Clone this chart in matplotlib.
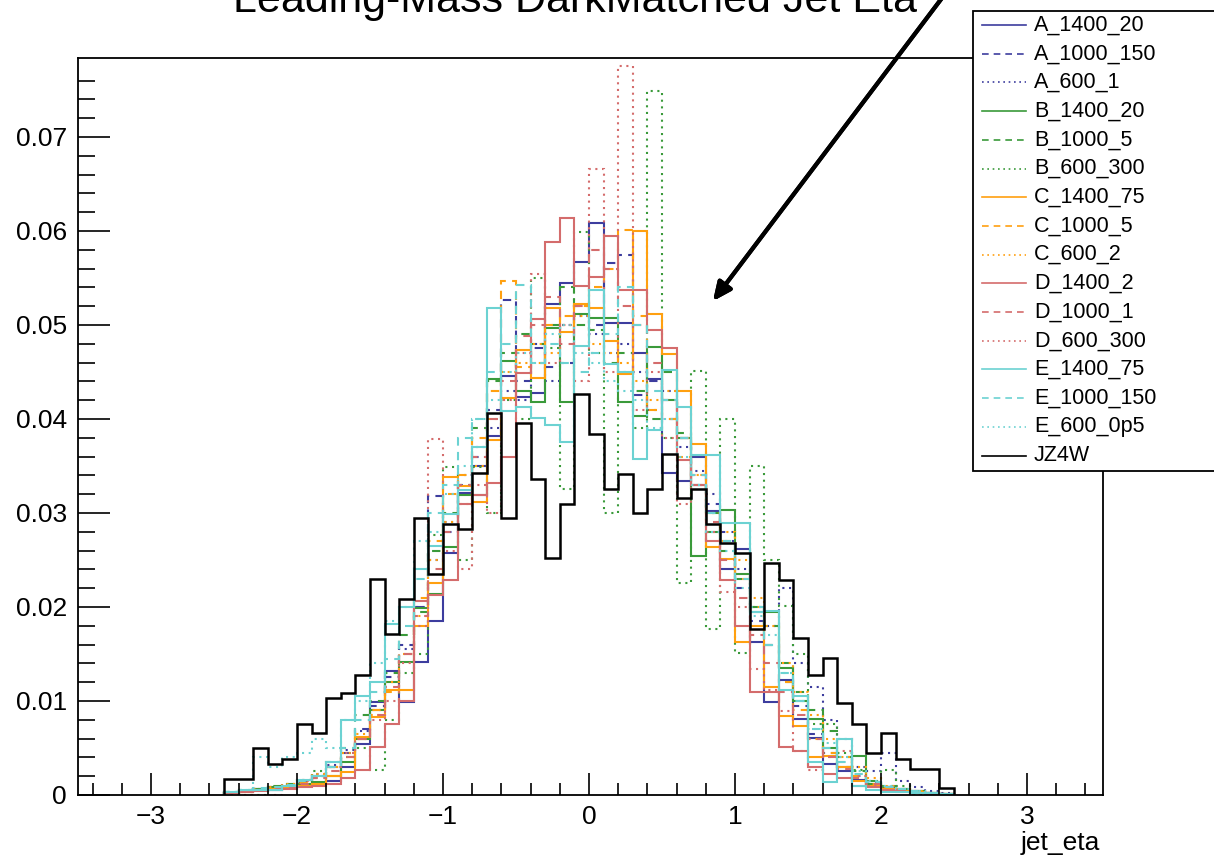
import matplotlib.pyplot as plt
import numpy as np
from matplotlib.patches import Rectangle
from matplotlib.lines import Line2D

plt.rcParams['font.family'] = ['Liberation Sans', 'DejaVu Sans']

# 50 bins of 0.1 in jet eta
edges = np.round(np.linspace(-2.5, 2.5, 51), 2)

A_1400_20 = [0.0002, 0.0004, 0.0006, 0.0005, 0.0008, 0.0010, 0.0012, 0.0015, 0.0030, 0.0054,
             0.0099, 0.0132, 0.0099, 0.0141, 0.0185, 0.0257, 0.0321, 0.0350, 0.0382, 0.0446,
             0.0423, 0.0428, 0.0522, 0.0545, 0.0567, 0.0608, 0.0502, 0.0502, 0.0470, 0.0443,
             0.0343, 0.0334, 0.0360, 0.0302, 0.0240, 0.0262, 0.0163, 0.0099, 0.0122, 0.0081,
             0.0061, 0.0033, 0.0025, 0.0016, 0.0011, 0.0008, 0.0005, 0.0003, 0.0002, 0.0001]
A_1000_150 = [0.0003, 0.0004, 0.0006, 0.0008, 0.0010, 0.0014, 0.0018, 0.0030, 0.0045, 0.0070,
              0.0095, 0.0125, 0.0160, 0.0200, 0.0318, 0.0280, 0.0330, 0.0360, 0.0410, 0.0527,
              0.0440, 0.0475, 0.0455, 0.0460, 0.0520, 0.0500, 0.0566, 0.0574, 0.0425, 0.0440,
              0.0400, 0.0380, 0.0330, 0.0310, 0.0280, 0.0220, 0.0185, 0.0160, 0.0120, 0.0095,
              0.0065, 0.0045, 0.0030, 0.0020, 0.0014, 0.0009, 0.0006, 0.0004, 0.0002, 0.0001]
A_600_1 = [0.0002, 0.0004, 0.0006, 0.0008, 0.0012, 0.0016, 0.0022, 0.0032, 0.0048, 0.0068,
           0.0090, 0.0120, 0.0155, 0.0200, 0.0250, 0.0290, 0.0340, 0.0370, 0.0390, 0.0430,
           0.0420, 0.0480, 0.0440, 0.0500, 0.0510, 0.0490, 0.0470, 0.0480, 0.0450, 0.0410,
           0.0430, 0.0370, 0.0345, 0.0320, 0.0270, 0.0240, 0.0200, 0.0180, 0.0220, 0.0140,
           0.0115, 0.0080, 0.0060, 0.0030, 0.0025, 0.0045, 0.0015, 0.0008, 0.0004, 0.0002]
B_1400_20 = [0.0002, 0.0004, 0.0006, 0.0008, 0.0009, 0.0012, 0.0014, 0.0020, 0.0035, 0.0060,
             0.0090, 0.0120, 0.0141, 0.0199, 0.0214, 0.0264, 0.0319, 0.0319, 0.0442, 0.0462,
             0.0430, 0.0418, 0.0497, 0.0418, 0.0512, 0.0507, 0.0507, 0.0418, 0.0403, 0.0477,
             0.0420, 0.0380, 0.0254, 0.0280, 0.0303, 0.0235, 0.0195, 0.0195, 0.0135, 0.0100,
             0.0081, 0.0050, 0.0030, 0.0041, 0.0012, 0.0008, 0.0006, 0.0004, 0.0002, 0.0001]
B_1000_5 = [0.0003, 0.0005, 0.0006, 0.0010, 0.0012, 0.0015, 0.0020, 0.0035, 0.0050, 0.0085,
            0.0100, 0.0130, 0.0170, 0.0195, 0.0260, 0.0300, 0.0330, 0.0390, 0.0440, 0.0470,
            0.0490, 0.0480, 0.0500, 0.0540, 0.0500, 0.0495, 0.0460, 0.0470, 0.0430, 0.0400,
            0.0450, 0.0385, 0.0330, 0.0300, 0.0260, 0.0230, 0.0200, 0.0180, 0.0140, 0.0110,
            0.0090, 0.0068, 0.0040, 0.0025, 0.0015, 0.0010, 0.0006, 0.0004, 0.0002, 0.0001]
B_600_300 = [0.0000, 0.0000, 0.0000, 0.0008, 0.0010, 0.0010, 0.0025, 0.0030, 0.0040, 0.0050,
             0.0027, 0.0080, 0.0130, 0.0150, 0.0277, 0.0349, 0.0250, 0.0349, 0.0300, 0.0420,
             0.0400, 0.0550, 0.0475, 0.0326, 0.0599, 0.0470, 0.0300, 0.0450, 0.0390, 0.0749,
             0.0380, 0.0226, 0.0451, 0.0177, 0.0400, 0.0151, 0.0350, 0.0250, 0.0201, 0.0150,
             0.0075, 0.0076, 0.0045, 0.0027, 0.0015, 0.0027, 0.0010, 0.0000, 0.0000, 0.0000]
C_1400_75 = [0.0002, 0.0003, 0.0005, 0.0006, 0.0008, 0.0010, 0.0012, 0.0020, 0.0024, 0.0062,
             0.0083, 0.0112, 0.0112, 0.0180, 0.0225, 0.0338, 0.0329, 0.0312, 0.0378, 0.0422,
             0.0473, 0.0444, 0.0518, 0.0492, 0.0522, 0.0518, 0.0483, 0.0448, 0.0600, 0.0512,
             0.0469, 0.0430, 0.0373, 0.0264, 0.0251, 0.0163, 0.0180, 0.0115, 0.0084, 0.0073,
             0.0040, 0.0041, 0.0030, 0.0015, 0.0010, 0.0006, 0.0004, 0.0003, 0.0002, 0.0001]
C_1000_5 = [0.0002, 0.0004, 0.0006, 0.0008, 0.0010, 0.0013, 0.0018, 0.0030, 0.0040, 0.0060,
            0.0090, 0.0110, 0.0150, 0.0210, 0.0270, 0.0320, 0.0340, 0.0380, 0.0430, 0.0547,
            0.0455, 0.0460, 0.0500, 0.0510, 0.0520, 0.0540, 0.0560, 0.0601, 0.0510, 0.0410,
            0.0400, 0.0360, 0.0340, 0.0300, 0.0270, 0.0230, 0.0200, 0.0160, 0.0120, 0.0090,
            0.0060, 0.0045, 0.0035, 0.0020, 0.0012, 0.0008, 0.0005, 0.0003, 0.0002, 0.0001]
C_600_2 = [0.0002, 0.0003, 0.0005, 0.0008, 0.0012, 0.0016, 0.0022, 0.0030, 0.0045, 0.0065,
           0.0085, 0.0120, 0.0150, 0.0190, 0.0250, 0.0290, 0.0310, 0.0350, 0.0400, 0.0450,
           0.0460, 0.0480, 0.0470, 0.0500, 0.0510, 0.0480, 0.0470, 0.0460, 0.0440, 0.0420,
           0.0430, 0.0380, 0.0340, 0.0300, 0.0280, 0.0250, 0.0210, 0.0180, 0.0140, 0.0110,
           0.0085, 0.0060, 0.0040, 0.0030, 0.0018, 0.0010, 0.0006, 0.0004, 0.0002, 0.0001]
D_1400_2 = [0.0002, 0.0003, 0.0004, 0.0005, 0.0006, 0.0008, 0.0010, 0.0012, 0.0018, 0.0027,
            0.0051, 0.0075, 0.0100, 0.0206, 0.0213, 0.0229, 0.0310, 0.0319, 0.0332, 0.0360,
            0.0449, 0.0506, 0.0588, 0.0614, 0.0541, 0.0551, 0.0595, 0.0537, 0.0537, 0.0495,
            0.0476, 0.0356, 0.0330, 0.0270, 0.0229, 0.0180, 0.0110, 0.0110, 0.0051, 0.0047,
            0.0030, 0.0022, 0.0018, 0.0010, 0.0008, 0.0005, 0.0003, 0.0002, 0.0001, 0.0000]
D_1000_1 = [0.0002, 0.0003, 0.0005, 0.0007, 0.0009, 0.0012, 0.0018, 0.0025, 0.0040, 0.0060,
            0.0085, 0.0115, 0.0150, 0.0190, 0.0240, 0.0280, 0.0330, 0.0360, 0.0400, 0.0440,
            0.0488, 0.0500, 0.0530, 0.0480, 0.0520, 0.0580, 0.0560, 0.0520, 0.0500, 0.0460,
            0.0420, 0.0380, 0.0340, 0.0290, 0.0250, 0.0210, 0.0170, 0.0140, 0.0110, 0.0085,
            0.0060, 0.0040, 0.0028, 0.0018, 0.0012, 0.0008, 0.0005, 0.0003, 0.0002, 0.0001]
D_600_300 = [0.0000, 0.0000, 0.0005, 0.0000, 0.0010, 0.0015, 0.0020, 0.0030, 0.0045, 0.0060,
             0.0080, 0.0100, 0.0140, 0.0180, 0.0379, 0.0260, 0.0240, 0.0330, 0.0300, 0.0420,
             0.0470, 0.0554, 0.0460, 0.0500, 0.0440, 0.0666, 0.0450, 0.0775, 0.0410, 0.0450,
             0.0380, 0.0310, 0.0330, 0.0280, 0.0216, 0.0200, 0.0134, 0.0112, 0.0089, 0.0047,
             0.0027, 0.0040, 0.0047, 0.0020, 0.0010, 0.0005, 0.0005, 0.0000, 0.0000, 0.0000]
E_1400_75 = [0.0003, 0.0005, 0.0005, 0.0005, 0.0010, 0.0016, 0.0020, 0.0035, 0.0080, 0.0105,
             0.0120, 0.0182, 0.0200, 0.0240, 0.0265, 0.0299, 0.0324, 0.0370, 0.0518, 0.0408,
             0.0413, 0.0401, 0.0394, 0.0376, 0.0478, 0.0537, 0.0459, 0.0450, 0.0357, 0.0388,
             0.0452, 0.0413, 0.0362, 0.0362, 0.0289, 0.0289, 0.0195, 0.0196, 0.0112, 0.0105,
             0.0035, 0.0014, 0.0060, 0.0010, 0.0005, 0.0003, 0.0003, 0.0002, 0.0002, 0.0001]
E_1000_150 = [0.0003, 0.0005, 0.0007, 0.0009, 0.0011, 0.0015, 0.0020, 0.0030, 0.0050, 0.0080,
              0.0110, 0.0145, 0.0180, 0.0230, 0.0300, 0.0330, 0.0380, 0.0400, 0.0450, 0.0480,
              0.0543, 0.0460, 0.0480, 0.0460, 0.0450, 0.0470, 0.0490, 0.0540, 0.0500, 0.0430,
              0.0420, 0.0380, 0.0340, 0.0300, 0.0270, 0.0230, 0.0200, 0.0160, 0.0130, 0.0100,
              0.0070, 0.0050, 0.0035, 0.0022, 0.0014, 0.0009, 0.0006, 0.0004, 0.0002, 0.0001]
E_600_0p5 = [0.0003, 0.0005, 0.0040, 0.0030, 0.0040, 0.0045, 0.0060, 0.0050, 0.0080, 0.0100,
             0.0140, 0.0185, 0.0200, 0.0270, 0.0280, 0.0320, 0.0350, 0.0400, 0.0420, 0.0450,
             0.0470, 0.0460, 0.0490, 0.0500, 0.0470, 0.0460, 0.0440, 0.0430, 0.0420, 0.0390,
             0.0400, 0.0360, 0.0330, 0.0280, 0.0260, 0.0220, 0.0190, 0.0170, 0.0130, 0.0100,
             0.0070, 0.0055, 0.0040, 0.0025, 0.0015, 0.0010, 0.0006, 0.0004, 0.0002, 0.0001]
JZ4W = [0.0017, 0.0017, 0.0050, 0.0033, 0.0038, 0.0076, 0.0066, 0.0103, 0.0108, 0.0128,
        0.0230, 0.0171, 0.0209, 0.0295, 0.0235, 0.0288, 0.0283, 0.0343, 0.0406, 0.0295,
        0.0396, 0.0336, 0.0252, 0.0310, 0.0427, 0.0384, 0.0326, 0.0342, 0.0300, 0.0326,
        0.0363, 0.0316, 0.0326, 0.0288, 0.0268, 0.0257, 0.0177, 0.0247, 0.0229, 0.0167,
        0.0128, 0.0146, 0.0098, 0.0076, 0.0045, 0.0066, 0.0038, 0.0028, 0.0028, 0.0007]

BLUE = '#3d3d9e'
GREEN = '#3a9a3a'
ORANGE = '#ffa010'
RED = '#d46c6c'
CYAN = '#6cd2d2'
SOLID = '-'
DASH = (0, (4, 3))
DOT = (0, (1, 2.2))

series = [
    ('A_1400_20', A_1400_20, BLUE, SOLID),
    ('A_1000_150', A_1000_150, BLUE, DASH),
    ('A_600_1', A_600_1, BLUE, DOT),
    ('B_1400_20', B_1400_20, GREEN, SOLID),
    ('B_1000_5', B_1000_5, GREEN, DASH),
    ('B_600_300', B_600_300, GREEN, DOT),
    ('C_1400_75', C_1400_75, ORANGE, SOLID),
    ('C_1000_5', C_1000_5, ORANGE, DASH),
    ('C_600_2', C_600_2, ORANGE, DOT),
    ('D_1400_2', D_1400_2, RED, SOLID),
    ('D_1000_1', D_1000_1, RED, DASH),
    ('D_600_300', D_600_300, RED, DOT),
    ('E_1400_75', E_1400_75, CYAN, SOLID),
    ('E_1000_150', E_1000_150, CYAN, DASH),
    ('E_600_0p5', E_600_0p5, CYAN, DOT),
    ('JZ4W', JZ4W, 'black', SOLID),
]

W, H = 1214, 860
fig = plt.figure(figsize=(W / 100, H / 100), dpi=100)


def px(x, y):
    # figure pixel (from top-left) -> figure fraction
    return x / W, 1 - y / H


ax = fig.add_axes([78 / W, 1 - 795 / H, (1103 - 78) / W, (795 - 58) / H])

for name, vals, col, ls in series:
    lw = 1.8 if name == 'JZ4W' else 1.5
    ax.stairs(vals, edges, color=col, linestyle=ls, linewidth=lw)

ax.set_xlim(-3.5, 3.52)
ax.set_ylim(0, 0.0784)
ax.set_xticks(np.arange(-3, 4, 1))
ax.set_xticks(np.round(np.arange(-3.4, 3.5, 0.2), 1), minor=True)
ax.set_yticks(np.arange(0, 0.071, 0.01))
ax.set_yticks(np.arange(0, 0.078, 0.002), minor=True)
ax.set_yticklabels(['0', '0.01', '0.02', '0.03', '0.04', '0.05', '0.06', '0.07'])
ax.set_xticklabels(['\u22123', '\u22122', '\u22121', '0', '1', '2', '3'])
ax.tick_params(axis='both', which='both', direction='in', colors='black',
               labelsize=19, width=1.2, top=False, right=False)
ax.tick_params(axis='x', which='major', length=16, pad=7)
ax.tick_params(axis='x', which='minor', length=8.5)
ax.tick_params(axis='y', which='major', length=23, pad=8)
ax.tick_params(axis='y', which='minor', length=12)
for sp in ax.spines.values():
    sp.set_linewidth(1.3)

fig.text(*px(1100, 850), 'jet_eta', ha='right', va='baseline', fontsize=19)
# title sits partly above the canvas
fig.text(*px(575, 12), 'Leading-Mass DarkMatched Jet Eta', ha='center',
         va='baseline', fontsize=31)

# legend box, drawn by hand so it runs off the right edge
fig.add_artist(Rectangle(px(973, 471), (1240 - 973) / W, (471 - 11) / H,
                         transform=fig.transFigure, facecolor='white',
                         edgecolor='black', linewidth=1.3, clip_on=False, zorder=5))
for i, (name, vals, col, ls) in enumerate(series):
    yy = 25 + i * 28.7
    x0, y0 = px(982, yy)
    x1, _ = px(1026, yy)
    fig.add_artist(Line2D([x0, x1], [y0, y0], transform=fig.transFigure,
                          color=col, linestyle=ls, linewidth=1.2, zorder=6))
    fig.text(*px(1034, yy), name, ha='left', va='center', fontsize=15.5, zorder=6)

# arrow pointing into the bulk of the distributions
fig.add_artist(plt.annotate('', xy=px(713, 301), xycoords='figure fraction',
                            xytext=px(945, -6), textcoords='figure fraction',
                            arrowprops=dict(arrowstyle='-|>,head_length=1.1,head_width=0.5',
                                            color='black', lw=3, shrinkA=0, shrinkB=0)))

fig.savefig('out.png', dpi=100)
